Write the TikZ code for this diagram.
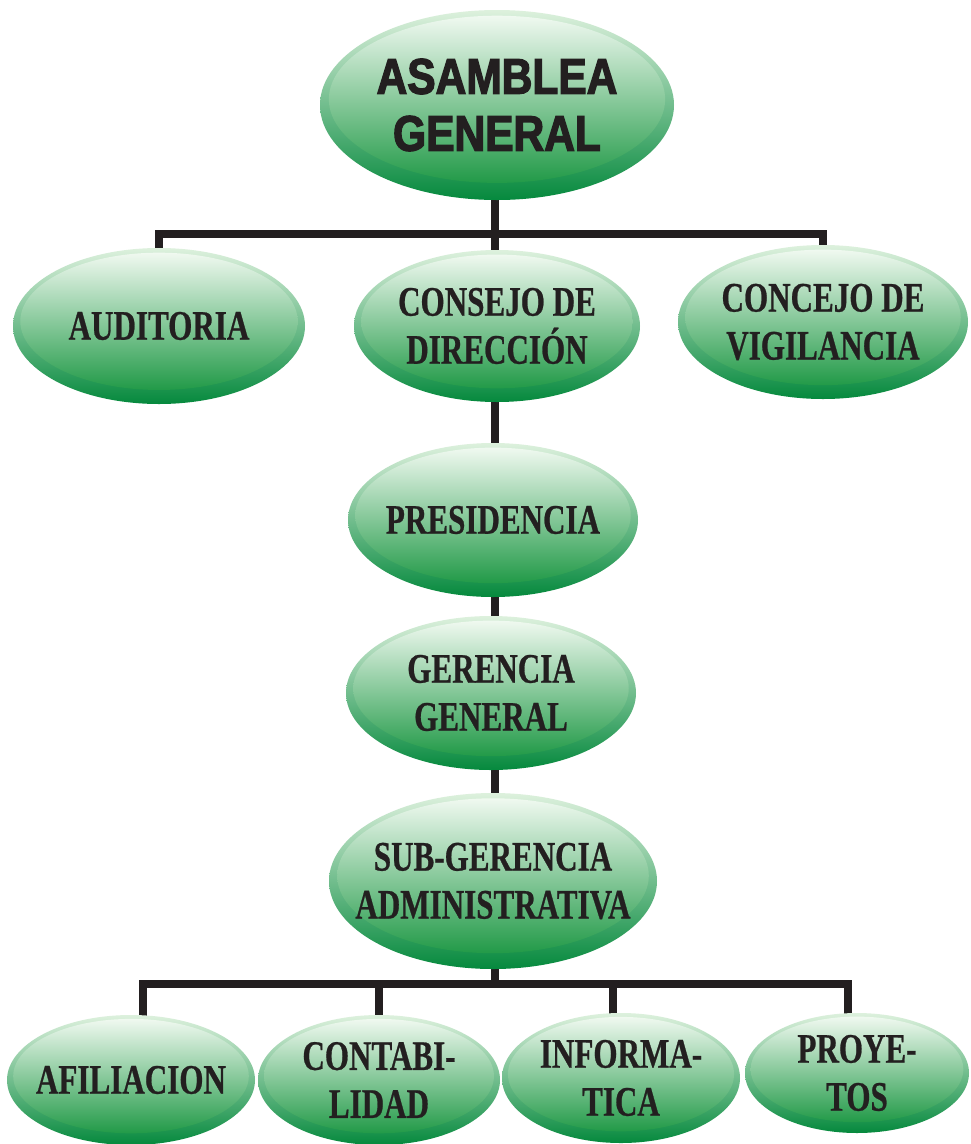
\documentclass[tikz,border=0pt]{standalone}
\usepackage{fontspec}
\newfontfamily\serifnarrow[FakeStretch=0.74,FakeBold=0.6]{Liberation Serif}
\newfontfamily\sansheavy[FakeStretch=0.85,FakeBold=2.6]{Liberation Sans}
\definecolor{txt}{HTML}{231F20}
\definecolor{rimtop}{HTML}{DDF1DD}
\definecolor{rimmid}{HTML}{3DB54A}
\definecolor{rimbot}{HTML}{05893D}
\definecolor{intop}{HTML}{F0F9F0}
\definecolor{inmid}{HTML}{B8E1B9}
\definecolor{inbot}{HTML}{229A48}
\definecolor{linec}{HTML}{231F20}
\pgfdeclarelayer{background}
\pgfsetlayers{background,main}
\tikzset{
  outershade/.style={top color=rimtop, middle color=rimmid, bottom color=rimbot},
  innershade/.style={top color=intop, middle color=inmid, bottom color=inbot},
  lbl/.style={text=txt, align=center, inner sep=0pt, font=\serifnarrow\bfseries\fontsize{42}{48}\selectfont},
  toplbl/.style={text=txt, align=center, inner sep=0pt, font=\sansheavy\bfseries\fontsize{50}{57}\selectfont},
  conn/.style={draw=linec, line width=8pt, line join=miter}
}
\newcommand\orgbub[7]{% style, name, x, y, rx, ry, text
  \shade[outershade] (#3,#4) ellipse [x radius=#5pt, y radius=#6pt];
  \shade[innershade] (#3,{#4-0.06*#6}) ellipse [x radius={0.95*#5pt}, y radius={0.88*#6pt}];
  \node[#1] (#2) at (#3,#4) {#7};
}
\begin{document}
\begin{tikzpicture}[x=1pt,y=-1pt]
\useasboundingbox (0,0) rectangle (970,1144);
\orgbub{toplbl}{asm}{497}{105}{177}{95}{ASAMBLEA\\GENERAL}
\orgbub{lbl}{aud}{159}{326}{146}{78}{AUDITORIA}
\orgbub{lbl}{dir}{497}{326}{143}{76}{CONSEJO DE\\DIRECCIÓN}
\orgbub{lbl}{vig}{823}{322}{145}{77}{CONCEJO DE\\VIGILANCIA}
\orgbub{lbl}{pre}{493}{520}{145}{77}{PRESIDENCIA}
\orgbub{lbl}{ger}{491}{693}{145}{77}{GERENCIA\\GENERAL}
\orgbub{lbl}{sub}{493}{881}{164}{88}{SUB-GERENCIA\\ADMINISTRATIVA}
\orgbub{lbl}{afi}{131}{1080}{124}{65}{AFILIACION}
\orgbub{lbl}{con}{379}{1080}{121}{65}{CONTABI-\\LIDAD}
\orgbub{lbl}{inf}{621}{1078}{119}{65}{INFORMA-\\TICA}
\orgbub{lbl}{pro}{857}{1073}{112}{60}{PROYE-\\TOS}
\coordinate (busT) at (495,234);
\coordinate (busB) at (495,984);
\begin{pgfonlayer}{background}
  \fill[white] (0,0) rectangle (970,1144);
  \draw[conn] (busT |- asm.center) -- (busT |- sub.center);
  \draw[conn] (aud.center) |- (busT) -| (vig.center);
  \draw[conn] ([xshift=12pt]afi.center) |- (busB) -| ([xshift=-9pt]pro.center);
  \draw[conn] (con.center) -- (con.center |- busB);
  \draw[conn] ([xshift=-8pt]inf.center) -- ([xshift=-8pt]inf.center |- busB);
  \draw[conn] (busT |- sub.center) -- (busB);
\end{pgfonlayer}
\end{tikzpicture}
\end{document}
